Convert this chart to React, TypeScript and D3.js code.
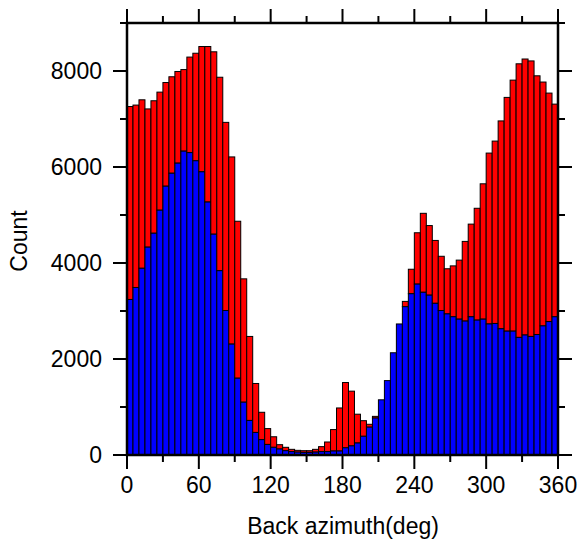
import React from "react";
import * as d3 from "d3";

const binStarts = d3.range(0, 360, 5);
const blueCounts = [
  3240, 3490, 3890, 4330, 4620, 5100, 5600, 5870, 6080, 6330, 6300, 6130,
  5900, 5270, 4600, 3840, 3010, 2310, 1600, 1100, 720, 470, 320, 220,
  160, 125, 90, 70, 60, 55, 55, 60, 70, 70, 83, 83, 150, 190, 250, 390,
  580, 770, 1150, 1550, 2130, 2730, 3090, 3360, 3560, 3390, 3330, 3160,
  3010, 2940, 2880, 2830, 2790, 2880, 2810, 2830, 2730, 2740, 2630, 2580,
  2580, 2450, 2500, 2470, 2510, 2690, 2780, 2880,
];
const totalCounts = [
  7260, 7290, 7400, 7210, 7380, 7560, 7760, 7880, 7990, 8030, 8290, 8370,
  8510, 8510, 8400, 7870, 6930, 6210, 4870, 3670, 2470, 1490, 890, 550,
  380, 215, 160, 118, 97, 90, 90, 118, 174, 271, 530, 980, 1510, 1330, 850, 715,
  640, 805, 1150, 1550, 2130, 2730, 3200, 3870, 4630, 5035, 4780, 4470,
  4140, 3880, 3940, 4060, 4450, 4810, 5140, 5650, 6290, 6540, 6960, 7450,
  7810, 8150, 8250, 8210, 7900, 7770, 7540, 7310,
];
const xMajorTicks = [0, 60, 120, 180, 240, 300, 360];
const xMinorTicks = [30, 90, 150, 210, 270, 330];
const yMajorTicks = [0, 2000, 4000, 6000, 8000];
const yMinorTicks = [1000, 3000, 5000, 7000, 9000];
const xTitle = "Back azimuth(deg)";
const yTitle = "Count";

const W = 579;
const H = 544;
const L = 127, R = 558, T = 23, B = 455;
const FONT = "'Liberation Sans', Arial, Helvetica, sans-serif";
const FS = 23;

export default function App() {
  const x = d3.scaleLinear().domain([0, 360]).range([L, R]);
  const y = d3.scaleLinear().domain([0, 9000]).range([B, T]);
  const bw = 5;
  const major = 14, minor = 7;

  return (
    <svg width={W} height={H} style={{ position: "absolute", left: 0, top: 0, background: "#fff" }}>
      {binStarts.map((s, i) => (
        <g key={i}>
          {totalCounts[i] > blueCounts[i] && (
            <rect
              x={x(s)}
              y={y(totalCounts[i])}
              width={x(s + bw) - x(s)}
              height={y(blueCounts[i]) - y(totalCounts[i])}
              fill="#ff0000"
              stroke="#000"
              strokeWidth={1}
            />
          )}
          <rect
            x={x(s)}
            y={y(blueCounts[i])}
            width={x(s + bw) - x(s)}
            height={B - y(blueCounts[i])}
            fill="#0000ff"
            stroke="#000"
            strokeWidth={1}
          />
        </g>
      ))}
      <rect x={L} y={T} width={R - L} height={B - T} fill="none" stroke="#000" strokeWidth={2.5} />
      {xMajorTicks.map((t) => (
        <g key={"xm" + t}>
          <line x1={x(t)} x2={x(t)} y1={B} y2={B + major} stroke="#000" strokeWidth={2} />
          <line x1={x(t)} x2={x(t)} y1={T} y2={T - major} stroke="#000" strokeWidth={2} />
          <text x={x(t)} y={493} textAnchor="middle" fontFamily={FONT} fontSize={FS} fill="#000">
            {t}
          </text>
        </g>
      ))}
      {xMinorTicks.map((t) => (
        <g key={"xn" + t}>
          <line x1={x(t)} x2={x(t)} y1={B} y2={B + minor} stroke="#000" strokeWidth={2} />
          <line x1={x(t)} x2={x(t)} y1={T} y2={T - minor} stroke="#000" strokeWidth={2} />
        </g>
      ))}
      {yMajorTicks.map((t) => (
        <g key={"ym" + t}>
          <line x1={L} x2={L - major} y1={y(t)} y2={y(t)} stroke="#000" strokeWidth={2} />
          <line x1={R} x2={R + major} y1={y(t)} y2={y(t)} stroke="#000" strokeWidth={2} />
          <text x={102} y={y(t) + 8} textAnchor="end" fontFamily={FONT} fontSize={FS} fill="#000">
            {t}
          </text>
        </g>
      ))}
      {yMinorTicks.map((t) => (
        <g key={"yn" + t}>
          <line x1={L} x2={L - minor} y1={y(t)} y2={y(t)} stroke="#000" strokeWidth={2} />
          <line x1={R} x2={R + minor} y1={y(t)} y2={y(t)} stroke="#000" strokeWidth={2} />
        </g>
      ))}
      <text x={343} y={534} textAnchor="middle" fontFamily={FONT} fontSize={FS} fill="#000">
        {xTitle}
      </text>
      <text
        transform={`translate(27,241) rotate(-90)`}
        textAnchor="middle"
        fontFamily={FONT}
        fontSize={FS}
        fill="#000"
      >
        {yTitle}
      </text>
    </svg>
  );
}
